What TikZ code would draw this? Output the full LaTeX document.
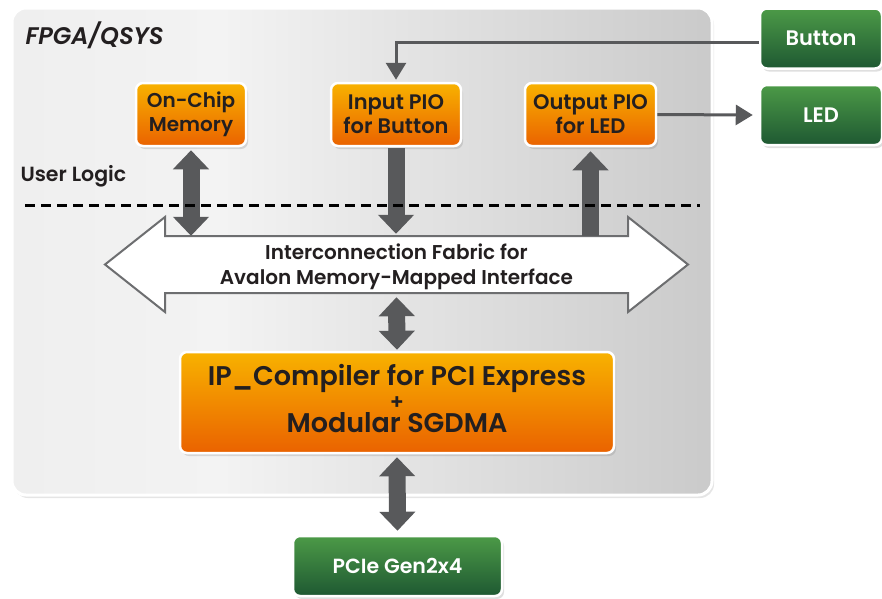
\documentclass[tikz,border=0pt]{standalone}
\usepackage{fontspec}
\setmainfont{Poppins}[BoldFont={* SemiBold}, BoldItalicFont={* SemiBold Italic}]
\usetikzlibrary{arrows.meta,shadows,calc}
\definecolor{arrowgray}{HTML}{58595B}
\definecolor{outlinegray}{HTML}{6D6E70}
\definecolor{orT}{HTML}{F8B200}
\definecolor{orB}{HTML}{EA6200}
\definecolor{grT}{HTML}{4C9A47}
\definecolor{grB}{HTML}{1E5832}
\definecolor{txt}{HTML}{231F20}
\definecolor{bgA}{HTML}{E8E8E8}
\definecolor{bgB}{HTML}{F3F3F3}
\definecolor{bgC}{HTML}{ADADAD}
\pgfdeclarehorizontalshading{fpgabg}{100bp}{color(0bp)=(bgA); color(40bp)=(bgB); color(100bp)=(bgC)}
\tikzset{
  orbox/.style={draw=white, line width=2.5pt, rounded corners=7pt, top color=orT, bottom color=orB,
    drop shadow={opacity=0.25, shadow xshift=2pt, shadow yshift=-3pt},
    align=center, text=txt, inner sep=0pt, font=\fontsize{21}{24}\selectfont\bfseries},
  grbox/.style={draw=white, line width=2.5pt, rounded corners=7pt, top color=grT, bottom color=grB,
    drop shadow={opacity=0.25, shadow xshift=2pt, shadow yshift=-3pt},
    align=center, text=white, inner sep=0pt, font=\fontsize{21}{24}\selectfont\bfseries},
  thinarrow/.style={draw=arrowgray, line width=3pt, -{Triangle[width=20pt,length=17pt]}},
  blockarrow/.style={draw=arrowgray, line width=17pt, {Triangle[width=35pt,length=19pt]}-{Triangle[width=35pt,length=19pt]}},
  blockone/.style={draw=arrowgray, line width=17pt, -{Triangle[width=35pt,length=19pt]}},
  userline/.style={draw=black, line width=3pt, dash pattern=on 10pt off 6pt},
}
\begin{document}
\begin{tikzpicture}[x=1pt,y=-1pt]
\useasboundingbox (0,0) rectangle (882,598);
\fill[white] (0,0) rectangle (882,598);
% FPGA region
\path[draw=white, line width=3pt, rounded corners=14pt, shading=fpgabg,
  drop shadow={opacity=0.2, shadow xshift=2pt, shadow yshift=-3pt}] (12,8) rectangle (712,495);
\node[text=txt, font=\fontsize{24}{26}\selectfont\bfseries\itshape, anchor=west] (fpga) at (22,35) {FPGA/QSYS};
\node[text=txt, font=\fontsize{20.5}{24}\selectfont\bfseries, anchor=west] (ul) at (17,176) {User Logic};

% boxes
\node[orbox, minimum width=110pt, minimum height=63pt, font=\fontsize{20}{24}\selectfont\bfseries] (mem) at (191,114.5) {On-Chip\\Memory};
\node[orbox, minimum width=130pt, minimum height=63pt] (inp) at (396,114.5) {Input PIO\\for Button};
\node[orbox, minimum width=131pt, minimum height=63pt] (outp) at (590.5,114.5) {Output PIO\\for LED};
\node[grbox, minimum width=122pt, minimum height=60pt] (btn) at (821,38.5) {Button};
\node[grbox, minimum width=122pt, minimum height=60pt] (led) at (821,115) {LED};
\node[orbox, minimum width=434pt, minimum height=101pt, font=\fontsize{27}{22.5}\selectfont\bfseries] (ip) at (397,402.5)
  {IP\_Compiler for PCI Express\\[1pt]
   {\fontsize{21}{15}\selectfont +}\\[1pt]
   Modular SGDMA\rule[-8pt]{0pt}{8pt}};
\node[grbox, minimum width=209pt, minimum height=60pt, font=\fontsize{20.5}{24}\selectfont\bfseries] (pcie) at (397.5,566) {PCIe Gen2x4};

% fabric arrow
\path[draw=outlinegray, line width=2pt, fill=white, line join=miter]
  (165,236) -- (628,236) -- (628,217) -- (688,264.5) -- (628,312) -- (628,293)
  -- (165,293) -- (165,312) -- (105,264.5) -- (165,217) -- cycle;
\node[text=txt, font=\fontsize{20}{25}\selectfont\bfseries, align=center, inner sep=0pt,
  minimum width=463pt, minimum height=57pt] (fab) at (396.5,264.5)
  {\rule{0pt}{20pt}Interconnection Fabric for\\Avalon Memory-Mapped Interface};

% connectors
\draw[thinarrow] ([yshift=-3.5pt]btn.west) -- ([yshift=-3.5pt]btn.west -| inp.north) -- ([yshift=2pt]inp.north);
\draw[thinarrow] (outp.east) -- ([xshift=-6pt]led.west);
\draw[blockarrow] ([yshift=-3pt]mem.south) -- (mem.south |- fab.north);
\draw[blockone] ([yshift=-1pt]inp.south) -- ([yshift=2pt]inp.south |- fab.north);
\draw[blockone] (fab.north -| outp.south) -- ([yshift=-4pt]outp.south);
\draw[blockarrow] ([yshift=-4pt]fab.south) -- ([yshift=1pt]ip.north);
\draw[blockarrow] ([yshift=-3pt]ip.south) -- ([yshift=4pt]pcie.north);

% user logic boundary
\coordinate (dl) at (25,205);
\coordinate (dr) at (700,205);
\draw[userline] (dl) -- (dr);
\end{tikzpicture}
\end{document}
